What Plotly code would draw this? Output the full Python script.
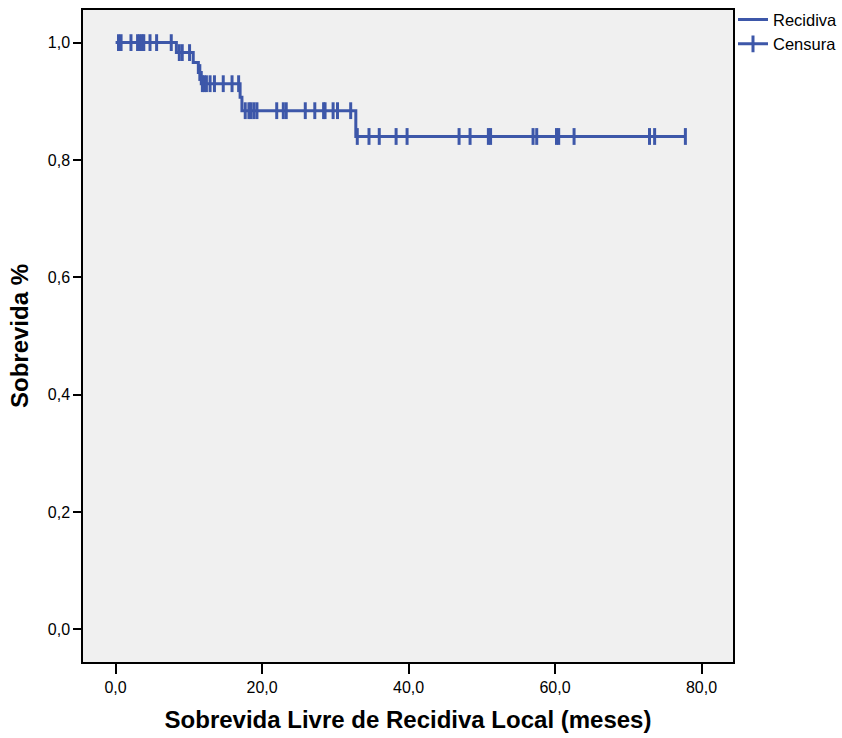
import plotly.graph_objects as go

# Kaplan-Meier estimate: event times (months) and survival after each event
event_times = [8.3, 10.6, 11.3, 11.7, 17.0, 17.25, 32.8]
survival_after = [0.983, 0.966, 0.949, 0.930, 0.907, 0.884, 0.840]

# censored observations (months)
censor_times = [
    0.4, 0.75, 2.1, 3.0, 3.3, 3.6, 3.85, 4.7, 5.6, 7.6,
    8.7, 9.1, 10.1,
    11.5,
    11.85, 12.1, 12.4, 12.9, 13.5, 14.7, 15.9, 16.8,
    17.7, 18.2, 18.5, 18.9, 19.3, 22.0, 22.9, 23.3, 25.9, 27.2, 28.4, 28.6,
    29.7, 30.3, 32.1,
    33.0, 34.6, 36.0, 38.3, 39.8, 46.9, 48.4, 50.9, 51.2, 57.0, 57.5,
    60.2, 60.5, 62.6, 72.9, 73.6, 77.8,
]

x_ticks = [0, 20, 40, 60, 80]
y_ticks = [0.0, 0.2, 0.4, 0.6, 0.8, 1.0]

BLUE = "#3D57A9"
FONT = "Liberation Sans, Arial, sans-serif"


def surv_at(t):
    s = 1.0
    for et, sv in zip(event_times, survival_after):
        if et <= t:
            s = sv
    return s


end_time = max(censor_times)
step_x = [0.0] + event_times + [end_time]
step_y = [1.0] + survival_after + [survival_after[-1]]

# censor marks, separated by gaps so no connecting line is drawn
cx, cy = [], []
for t in censor_times:
    cx += [t, None]
    cy += [surv_at(t), None]

fig = go.Figure()
fig.add_trace(go.Scatter(
    x=step_x, y=step_y, mode="lines", name="Recidiva",
    line=dict(color=BLUE, width=3, shape="hv"),
    hoverinfo="skip",
))
fig.add_trace(go.Scatter(
    x=cx, y=cy, mode="lines+markers", name="Censura",
    connectgaps=False,
    line=dict(color=BLUE, width=3),
    marker=dict(symbol="line-ns", size=12, color=BLUE,
                line=dict(color=BLUE, width=3)),
    hoverinfo="skip",
))

axis_common = dict(
    showgrid=False, zeroline=False, showline=True, mirror=True,
    linecolor="black", linewidth=1.5, ticks="outside", tickcolor="black",
    tickwidth=1.5, tickfont=dict(family=FONT, size=16, color="black"),
    automargin=False,
)

fig.update_layout(
    width=842, height=738,
    margin=dict(l=83, r=109, t=10, b=76, autoexpand=False),
    paper_bgcolor="white", plot_bgcolor="#F0F0F0",
    separators=",.",
    font=dict(family=FONT, color="black"),
    xaxis=dict(
        range=[-4.45, 84.3], tickvals=x_ticks, tickformat=".1f", ticklen=10,
        title=dict(text="<b>Sobrevida Livre de Recidiva Local (meses)</b>",
                   font=dict(family=FONT, size=24, color="black"), standoff=16),
        **axis_common,
    ),
    yaxis=dict(
        range=[-0.0557, 1.0556], tickvals=y_ticks, tickformat=".1f", ticklen=8,
        title=dict(text="<b>Sobrevida %</b>",
                   font=dict(family=FONT, size=24, color="black"), standoff=12),
        **axis_common,
    ),
    legend=dict(
        x=1.0, xanchor="left", y=1.012, yanchor="top",
        font=dict(family=FONT, size=16.5, color="black"),
        bgcolor="rgba(0,0,0,0)", itemwidth=30, tracegroupgap=0,
    ),
)

fig.write_html("out.html")
